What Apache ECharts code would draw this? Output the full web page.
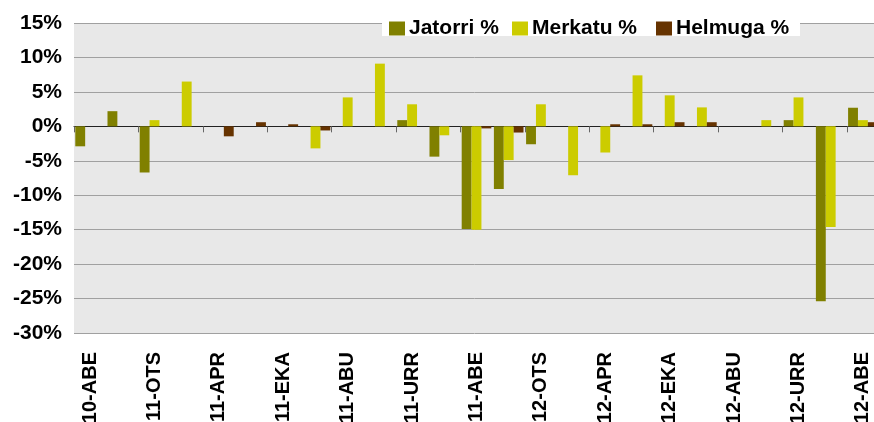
<!DOCTYPE html>
<html>
<head>
<meta charset="utf-8">
<script src="https://cdn.jsdelivr.net/npm/echarts@6/dist/echarts.min.js"></script>
<style>html,body{margin:0;padding:0;background:#fff;}#c{width:874px;height:422px;}</style>
</head>
<body>
<div id="c"></div>
<script>
var categories = ['10-ABE','11-URT','11-OTS','11-MAR','11-APR','11-MAI','11-EKA','11-UZT','11-ABU','11-IRA','11-URR','11-AZA','11-ABE',
  '12-URT','12-OTS','12-MAR','12-APR','12-MAI','12-EKA','12-UZT','12-ABU','12-IRA','12-URR','12-AZA','12-ABE'];
var jatorri = [-2.9, 2.2, -6.7, 0, 0, 0, 0, 0, 0, 0, 0.9, -4.4, -14.9, -9.1, -2.6, 0, 0, 0, 0, 0, 0, 0, 0.9, -25.4, 2.7];
var merkatu = [0, 0, 0.9, 6.5, 0, 0, 0, -3.2, 4.2, 9.1, 3.2, -1.3, -15.0, -4.9, 3.2, -7.1, -3.8, 7.4, 4.5, 2.75, 0, 0.9, 4.2, -14.6, 0.9];
var helmuga = [0, 0, 0, 0, -1.45, 0.6, 0.3, -0.6, 0, 0, 0, 0, -0.3, -0.9, 0, 0, 0.3, 0.3, 0.6, 0.6, 0, 0, 0, 0, 0.6];
var seriesNames = ['Jatorri %', 'Merkatu %', 'Helmuga %'];
var yTicks = { min: -30, max: 15, interval: 5 };

var FONT = 'Liberation Sans';
var chart = echarts.init(document.getElementById('c'), null, { renderer: 'canvas' });
function legendAt(name, left) {
  return {
    data: [name], left: left, top: 18, itemWidth: 16, itemHeight: 14, itemGap: 0,
    padding: 0, z: 5, icon: 'rect',
    textStyle: { fontFamily: FONT, fontWeight: 'bold', fontSize: 21, color: '#000', padding: [0,0,0,-1] }
  };
}
chart.setOption({
  animation: false,
  backgroundColor: '#fff',
  graphic: [{ type: 'rect', left: 382, top: 8, shape: { width: 418, height: 28 }, style: { fill: '#fff' }, z: 3, silent: true }],
  legend: [legendAt(seriesNames[0], 389), legendAt(seriesNames[1], 512), legendAt(seriesNames[2], 656)],
  grid: { left: 74, right: -5, top: 23, bottom: 89, show: true, backgroundColor: '#E8E8E8', borderWidth: 0,
          containLabel: false, outerBoundsMode: 'none' },
  xAxis: [
    { type: 'category', data: categories, position: 'bottom',
      axisLine: { show: false, onZero: false }, axisTick: { show: false },
      axisLabel: { interval: 1, rotate: 90, margin: 19, fontFamily: FONT, fontWeight: 'bold', fontSize: 20, color: '#000' } },
    { type: 'category', data: categories, position: 'bottom',
      axisLine: { show: true, onZero: true, lineStyle: { color: '#222', width: 1 } },
      axisTick: { show: true, length: 6, lineStyle: { color: '#666' } },
      axisLabel: { show: false } }
  ],
  yAxis: {
    type: 'value', min: yTicks.min, max: yTicks.max, interval: yTicks.interval,
    axisLine: { show: false }, axisTick: { show: false },
    splitLine: { show: true, lineStyle: { color: '#A0A0A0', width: 1 } },
    axisLabel: { formatter: '{value}%', margin: 12, fontFamily: FONT, fontWeight: 'bold', fontSize: 21, color: '#000' }
  },
  series: [
    { name: seriesNames[0], type: 'bar', data: jatorri, itemStyle: { color: '#808000' }, barGap: '0%', barCategoryGap: '8%' },
    { name: seriesNames[1], type: 'bar', data: merkatu, itemStyle: { color: '#CCCC00' }, barGap: '0%', barCategoryGap: '8%' },
    { name: seriesNames[2], type: 'bar', data: helmuga, itemStyle: { color: '#663300' }, barGap: '0%', barCategoryGap: '8%' }
  ]
});
</script>
</body>
</html>
